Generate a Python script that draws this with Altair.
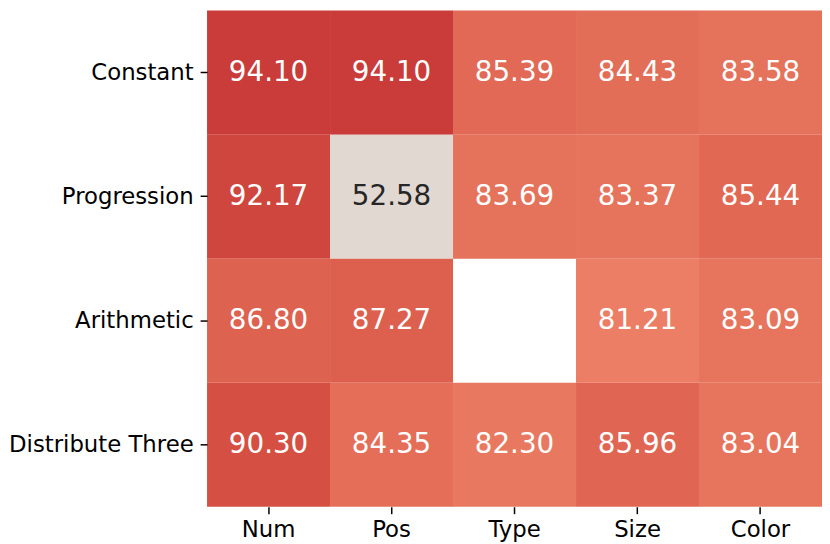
import altair as alt
import pandas as pd

rows = ["Constant", "Progression", "Arithmetic", "Distribute Three"]
cols = ["Num", "Pos", "Type", "Size", "Color"]
values = [
    [94.10, 94.10, 85.39, 84.43, 83.58],
    [92.17, 52.58, 83.69, 83.37, 85.44],
    [86.80, 87.27, None, 81.21, 83.09],
    [90.30, 84.35, 82.30, 85.96, 83.04],
]
cmap_domain = [0, 10, 20, 30, 40, 50, 60, 70, 80, 90, 95, 100]
cmap_range = ["#3b4cc0", "#5977e3", "#7b9ff9", "#9ebeff", "#c0d4f5", "#dddcdc",
              "#f2cbb7", "#f7ac8e", "#ee8468", "#d65244", "#c73736", "#b40426"]

recs = []
for r, row in zip(rows, values):
    for c, v in zip(cols, row):
        if v is not None:
            recs.append({"row": r, "col": c, "value": v})
df = pd.DataFrame(recs)

FONT = "DejaVu Sans"

x = alt.X("col:N", sort=cols, title=None,
          scale=alt.Scale(paddingInner=0, paddingOuter=0),
          axis=alt.Axis(orient="bottom", labelAngle=0, labelFont=FONT, labelFontSize=23,
                        labelColor="#000000", tickColor="#000000", tickSize=7, tickWidth=1.5,
                        labelPadding=5, domain=False, grid=False))
y = alt.Y("row:N", sort=rows, title=None,
          scale=alt.Scale(paddingInner=0, paddingOuter=0),
          axis=alt.Axis(labelFont=FONT, labelFontSize=23, labelColor="#000000",
                        tickColor="#000000", tickSize=7, tickWidth=1.5, labelPadding=7,
                        labelLimit=400, domain=False, grid=False))

rect = alt.Chart(df).mark_rect(strokeWidth=0).encode(
    x=x, y=y,
    color=alt.Color("value:Q", legend=None,
                    scale=alt.Scale(domain=cmap_domain, range=cmap_range, interpolate="rgb")),
)
text = alt.Chart(df).mark_text(font=FONT, fontSize=28).encode(
    x=x, y=y,
    text=alt.Text("value:Q", format=".2f"),
    color=alt.condition("datum.value < 70", alt.value("#262626"), alt.value("#ffffff")),
)

chart = alt.layer(rect, text).properties(
    width=822, height=536,
    autosize=alt.AutoSizeParams(type="fit", contains="padding"),
    padding=0,
).configure_view(stroke=None)

chart.save("out.html", embed_options={"renderer": "svg", "actions": False})
